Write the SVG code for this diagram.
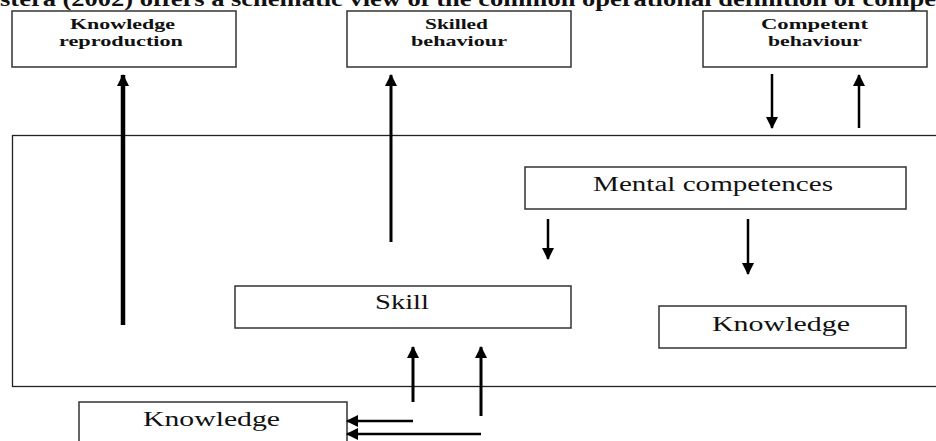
<svg xmlns="http://www.w3.org/2000/svg" width="936" height="441" viewBox="0 0 936 441">
<style>
.box{fill:#fff;stroke:#333;stroke-width:1.5}
.frame{fill:none;stroke:#222;stroke-width:1.3}
.bt{font-family:"Liberation Serif","Times New Roman",serif;font-weight:bold;font-size:15px;fill:#111}
.t{font-family:"Liberation Serif","Times New Roman",serif;font-size:20px;fill:#111}
.a{stroke:#000;fill:none;marker-end:url(#ah)}
</style>
<defs>
<marker id="ah" markerUnits="userSpaceOnUse" markerWidth="12" markerHeight="12" viewBox="0 0 12 12" refX="11" refY="6" orient="auto">
<path d="M0,0 L12,6 L0,12 Z" fill="#000"/>
</marker>
</defs>
<text x="0" y="6" font-family="Liberation Serif,Times New Roman,serif" font-weight="bold" font-size="20" fill="#111" textLength="936" lengthAdjust="spacingAndGlyphs">stera (2002) offers a schematic view of the common operational definition of compe</text>
<rect class="frame" x="12.5" y="135.5" width="940" height="251"/>
<g id="knowledge-reproduction"><rect class="box" x="12" y="11" width="224" height="56"/><text class="bt" x="70" y="29" textLength="105" lengthAdjust="spacingAndGlyphs">Knowledge</text><text class="bt" x="59" y="46" textLength="124" lengthAdjust="spacingAndGlyphs">reproduction</text></g>
<g id="skilled-behaviour"><rect class="box" x="347" y="11" width="224" height="56"/><text class="bt" x="425" y="29" textLength="63" lengthAdjust="spacingAndGlyphs">Skilled</text><text class="bt" x="411" y="46" textLength="96" lengthAdjust="spacingAndGlyphs">behaviour</text></g>
<g id="competent-behaviour"><rect class="box" x="703" y="11" width="224" height="56"/><text class="bt" x="761" y="29" textLength="107" lengthAdjust="spacingAndGlyphs">Competent</text><text class="bt" x="768" y="46" textLength="94" lengthAdjust="spacingAndGlyphs">behaviour</text></g>
<g id="mental-competences"><rect class="box" x="525" y="167" width="381" height="42"/><text class="t" x="593" y="191" textLength="240" lengthAdjust="spacingAndGlyphs">Mental competences</text></g>
<g id="skill"><rect class="box" x="235" y="286" width="336" height="42"/><text class="t" x="375" y="309" textLength="54" lengthAdjust="spacingAndGlyphs">Skill</text></g>
<g id="knowledge-inner"><rect class="box" x="659" y="306" width="247" height="42"/><text class="t" x="712" y="331" textLength="138" lengthAdjust="spacingAndGlyphs">Knowledge</text></g>
<g id="knowledge-outer"><rect class="box" x="79" y="402" width="268" height="50"/><text class="t" x="143" y="426" textLength="137" lengthAdjust="spacingAndGlyphs">Knowledge</text></g>
<g id="connectors">
<line class="a" x1="123" y1="325" x2="123" y2="75" stroke-width="4.5"/>
<line class="a" x1="391" y1="242" x2="391" y2="75" stroke-width="3"/>
<line class="a" x1="772" y1="74" x2="772" y2="128" stroke-width="2.5"/>
<line class="a" x1="859" y1="128" x2="859" y2="75" stroke-width="2.5"/>
<line class="a" x1="548" y1="219" x2="548" y2="259" stroke-width="2.5"/>
<line class="a" x1="748" y1="219" x2="748" y2="274" stroke-width="2.5"/>
<line class="a" x1="413" y1="402" x2="413" y2="347" stroke-width="3"/>
<line class="a" x1="481" y1="416" x2="481" y2="347" stroke-width="3"/>
<line class="a" x1="413" y1="421" x2="347" y2="421" stroke-width="2.5"/>
<line class="a" x1="481" y1="434" x2="347" y2="434" stroke-width="2.5"/>
</g>
</svg>
